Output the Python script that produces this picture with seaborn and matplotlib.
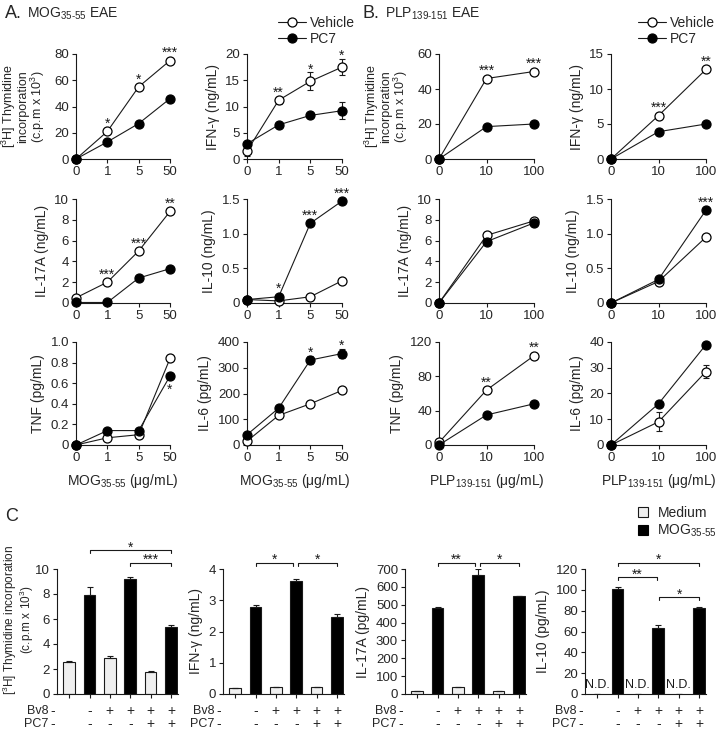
import numpy as np
import pandas as pd
import matplotlib
matplotlib.use("Agg")
import matplotlib.pyplot as plt
from matplotlib.lines import Line2D
from matplotlib.patches import Patch
from matplotlib.transforms import blended_transform_factory
import seaborn as sns

# ---------------- DATA ----------------
mog_doses = ["0", "1", "5", "50"]
plp_doses = ["0", "10", "100"]

# A. MOG35-55 EAE (vehicle vs PC7, mean and SEM)
a_thy_veh = [0, 21, 55, 75]
a_thy_pc7 = [0, 13, 27, 46]
a_ifn_veh = [1.5, 11.2, 14.8, 17.5]
a_ifn_veh_err = [1.0, 0.7, 1.7, 1.5]
a_ifn_pc7 = [2.9, 6.5, 8.3, 9.2]
a_ifn_pc7_err = [0.2, 0.3, 0.4, 1.6]
a_il17_veh = [0.5, 2.0, 5.0, 8.8]
a_il17_pc7 = [0.05, 0.05, 2.4, 3.3]
a_il10_veh = [0.05, 0.03, 0.09, 0.32]
a_il10_pc7 = [0.05, 0.09, 1.15, 1.47]
a_tnf_veh = [0.0, 0.07, 0.10, 0.84]
a_tnf_pc7 = [0.0, 0.14, 0.14, 0.67]
a_il6_veh = [15, 115, 160, 212]
a_il6_pc7 = [40, 143, 330, 355]
a_il6_pc7_err = [5, 8, 15, 18]

a_thy_stars = ["", "*", "*", "***"]
a_ifn_stars = ["", "**", "*", "*"]
a_il17_stars = ["", "***", "***", "**"]
a_il10_stars = ["", "*", "***", "***"]
a_tnf_stars = ["", "", "", "*"]
a_il6_stars = ["", "", "*", "*"]

# B. PLP139-151 EAE
b_thy_veh = [0, 46, 50]
b_thy_pc7 = [0, 18.5, 20]
b_ifn_veh = [0, 6.2, 12.8]
b_ifn_pc7 = [0, 3.9, 5.0]
b_il17_veh = [0, 6.5, 7.9]
b_il17_pc7 = [0, 5.9, 7.7]
b_il10_veh = [0, 0.31, 0.95]
b_il10_pc7 = [0, 0.34, 1.34]
b_tnf_veh = [3, 64, 104]
b_tnf_pc7 = [0, 35, 48]
b_il6_veh = [0, 9, 28.5]
b_il6_veh_err = [0, 3.7, 2.5]
b_il6_pc7 = [0, 16, 39]

b_thy_stars = ["", "***", "***"]
b_ifn_stars = ["", "***", "**"]
b_il17_stars = ["", "", ""]
b_il10_stars = ["", "", "***"]
b_tnf_stars = ["", "**", "**"]
b_il6_stars = ["", "", ""]

# C. Bv8 / PC7 restimulation, bars alternate Medium / MOG35-55
bv8_signs = ["-", "-", "+", "+", "+", "+"]
pc7_signs = ["-", "-", "-", "-", "+", "+"]
c_thy = [2.55, 7.9, 2.85, 9.2, 1.75, 5.4]
c_thy_err = [0.12, 0.65, 0.2, 0.15, 0.08, 0.12]
c_ifn = [0.18, 2.8, 0.22, 3.62, 0.22, 2.47]
c_ifn_err = [0.01, 0.04, 0.01, 0.07, 0.01, 0.1]
c_il17 = [15, 480, 38, 668, 15, 548]
c_il17_err = [2, 5, 2, 30, 2, 3]
c_il10 = [np.nan, 101, np.nan, 63, np.nan, 83]
c_il10_err = [0, 2, 0, 3, 0, 0.5]

# --------------- STYLE ----------------
sns.set_style("ticks")
plt.rcParams["font.family"] = ["Liberation Sans", "DejaVu Sans"]
plt.rcParams["mathtext.fontset"] = "custom"
plt.rcParams["mathtext.rm"] = "Liberation Sans"
plt.rcParams["mathtext.it"] = "Liberation Sans:italic"
plt.rcParams["mathtext.bf"] = "Liberation Sans:bold"

INK = "#1a1a1a"
FS = 10      # axis labels
TFS = 9.5    # tick labels
W, H = 717, 732
fig = plt.figure(figsize=(W / 100, H / 100), dpi=100)

MOG = r"MOG$_{\mathregular{35‐55}}$"
PLP = r"PLP$_{\mathregular{139‐151}}$"


def px_axes(x0, y0, x1, y1):
    return fig.add_axes([x0 / W, 1 - y1 / H, (x1 - x0) / W, (y1 - y0) / H])


def style_axes(ax):
    sns.despine(ax=ax)
    for side in ("left", "bottom"):
        ax.spines[side].set_linewidth(0.8)
        ax.spines[side].set_color(INK)
    ax.tick_params(length=3, width=0.8, labelsize=TFS, pad=2, color=INK)


def draw_lines(ax, doses, veh, veh_err, pc7, pc7_err, yticks, yticklabels,
               ylabel, stars, below=False, xlabel=None):
    pos = np.arange(len(doses))
    ax.set_xlim(0, len(doses) - 1)
    ax.set_ylim(0, yticks[-1])
    for vals, err, face in ((veh, veh_err, "white"), (pc7, pc7_err, "black")):
        ax.errorbar(pos, vals, yerr=err, fmt="none", ecolor=INK, elinewidth=0.8,
                    capsize=2.5, capthick=0.8, zorder=2, clip_on=False)
        sns.lineplot(x=pos, y=vals, ax=ax, color=INK, linewidth=0.8, marker="o",
                     markersize=6.5, markerfacecolor=face, markeredgecolor="black",
                     markeredgewidth=0.9, zorder=3, clip_on=False)
    ax.set_xticks(pos, doses)
    ax.set_yticks(yticks, yticklabels)
    if "\n" in ylabel:
        ax.set_ylabel(ylabel, fontsize=9, linespacing=0.95)
        w = ax.get_position().width * W
        ax.yaxis.set_label_coords(-29 / w, 0.5)
    else:
        ax.set_ylabel(ylabel, fontsize=FS)
    if xlabel:
        ax.set_xlabel(xlabel, fontsize=FS, labelpad=6)
    style_axes(ax)

    # significance stars
    for i, s in enumerate(stars):
        if not s:
            continue
        if below:
            y_disp = ax.transData.transform((i, pc7[i]))[1]
            off = -18
        else:
            tops = []
            for vals, err in ((veh, veh_err), (pc7, pc7_err)):
                e = err[i] if err is not None else 0
                v_disp = ax.transData.transform((i, vals[i]))[1]
                e_disp = ax.transData.transform((i, vals[i] + e))[1]
                tops.append(max(v_disp + 4.5, e_disp))
            y_disp = max(tops)
            off = -1
        x_disp = ax.transData.transform((i, 0))[0]
        fig.text(x_disp / W, (y_disp + off) / H, s, ha="center", va="baseline",
                 fontsize=10, color=INK)


def bracket(ax, x1, x2, y, text, drop):
    ax.plot([x1, x1, x2, x2], [y - drop, y, y, y - drop], color=INK, lw=0.8,
            clip_on=False)
    ax.annotate(text, ((x1 + x2) / 2, y), xytext=(0, -1), textcoords="offset points",
                ha="center", va="baseline", fontsize=10, color=INK,
                annotation_clip=False)


def draw_bars(ax, vals, errs, yticks, ylabel, brackets, nd=False):
    grp = [f"g{i}" for i in range(6)]
    colors = ["#efefef", "black"] * 3
    df = pd.DataFrame({"grp": grp, "val": vals})
    sns.barplot(data=df, x="grp", y="val", hue="grp", order=grp, hue_order=grp,
                palette=dict(zip(grp, colors)), legend=False, width=0.58,
                edgecolor=INK, linewidth=0.8, errorbar=None, ax=ax)
    pos = np.arange(6)
    vv = np.nan_to_num(np.array(vals, dtype=float))
    ax.errorbar(pos, vv, yerr=[np.zeros(6), errs], fmt="none", ecolor=INK,
                elinewidth=0.8, capsize=2.5, capthick=0.8, zorder=3)
    ax.set_xlim(-0.6, 5.35)
    ax.set_ylim(0, yticks[-1])
    ax.set_xticks(pos, [""] * 6)
    ax.set_yticks(yticks, [f"{t:g}" for t in yticks])
    ax.set_xlabel("")
    if "\n" in ylabel:
        ax.set_ylabel(ylabel, fontsize=8.5, linespacing=0.9)
    else:
        ax.set_ylabel(ylabel, fontsize=FS)
    style_axes(ax)
    span = yticks[-1]
    for x1, x2, y, s in brackets:
        bracket(ax, x1, x2, y, s, span * 0.025)
    if nd:
        for i in (0, 2, 4):
            ax.text(i, span * 0.07, "N.D.", ha="center", va="center", fontsize=9,
                    color=INK)
    trans = blended_transform_factory(ax.transData, fig.transFigure)
    for row, signs, ypx in (("Bv8", bv8_signs, 711), ("PC7", pc7_signs, 724)):
        yf = 1 - ypx / H
        ax.text(-1.03, yf, row, transform=trans, ha="right", va="center", fontsize=9)
        for i, s in enumerate(signs):
            xi = -0.83 if i == 0 else i
            ax.text(xi, yf, s, transform=trans, ha="center", va="center",
                    fontsize=10)


thy_label = "[$^3$H] Thymidine\nincorporation\n(c.p.m x 10$^3$)"

# ---------- Panel A ----------
cols_a = [(76, 170), (247, 342)]
cols_b = [(439, 534), (611, 706)]
rows = [(54, 159), (199, 303), (342, 445)]

ax = px_axes(cols_a[0][0], rows[0][0], cols_a[0][1], rows[0][1])
draw_lines(ax, mog_doses, a_thy_veh, None, a_thy_pc7, None, [0, 20, 40, 60, 80],
           ["0", "20", "40", "60", "80"], thy_label, a_thy_stars)
ax = px_axes(cols_a[1][0], rows[0][0], cols_a[1][1], rows[0][1])
draw_lines(ax, mog_doses, a_ifn_veh, a_ifn_veh_err, a_ifn_pc7, a_ifn_pc7_err,
           [0, 5, 10, 15, 20], ["0", "5", "10", "15", "20"], "IFN-γ (ng/mL)", a_ifn_stars)
ax = px_axes(cols_a[0][0], rows[1][0], cols_a[0][1], rows[1][1])
draw_lines(ax, mog_doses, a_il17_veh, None, a_il17_pc7, None, [0, 2, 4, 6, 8, 10],
           ["0", "2", "4", "6", "8", "10"], "IL-17A (ng/mL)", a_il17_stars)
ax = px_axes(cols_a[1][0], rows[1][0], cols_a[1][1], rows[1][1])
draw_lines(ax, mog_doses, a_il10_veh, None, a_il10_pc7, None, [0, 0.5, 1.0, 1.5],
           ["0", "0.5", "1.0", "1.5"], "IL-10 (ng/mL)", a_il10_stars)
ax = px_axes(cols_a[0][0], rows[2][0], cols_a[0][1], rows[2][1])
draw_lines(ax, mog_doses, a_tnf_veh, None, a_tnf_pc7, None,
           [0, 0.2, 0.4, 0.6, 0.8, 1.0], ["0", "0.2", "0.4", "0.6", "0.8", "1.0"],
           "TNF (pg/mL)", a_tnf_stars, below=True, xlabel=MOG + " (μg/mL)")
ax = px_axes(cols_a[1][0], rows[2][0], cols_a[1][1], rows[2][1])
draw_lines(ax, mog_doses, a_il6_veh, None, a_il6_pc7, a_il6_pc7_err,
           [0, 100, 200, 300, 400], ["0", "100", "200", "300", "400"],
           "IL-6 (pg/mL)", a_il6_stars, xlabel=MOG + " (μg/mL)")

# ---------- Panel B ----------
ax = px_axes(cols_b[0][0], rows[0][0], cols_b[0][1], rows[0][1])
draw_lines(ax, plp_doses, b_thy_veh, None, b_thy_pc7, None, [0, 20, 40, 60],
           ["0", "20", "40", "60"], thy_label, b_thy_stars)
ax = px_axes(cols_b[1][0], rows[0][0], cols_b[1][1], rows[0][1])
draw_lines(ax, plp_doses, b_ifn_veh, None, b_ifn_pc7, None, [0, 5, 10, 15],
           ["0", "5", "10", "15"], "IFN-γ (ng/mL)", b_ifn_stars)
ax = px_axes(cols_b[0][0], rows[1][0], cols_b[0][1], rows[1][1])
draw_lines(ax, plp_doses, b_il17_veh, None, b_il17_pc7, None, [0, 2, 4, 6, 8, 10],
           ["0", "2", "4", "6", "8", "10"], "IL-17A (ng/mL)", b_il17_stars)
ax = px_axes(cols_b[1][0], rows[1][0], cols_b[1][1], rows[1][1])
draw_lines(ax, plp_doses, b_il10_veh, None, b_il10_pc7, None, [0, 0.5, 1.0, 1.5],
           ["0", "0.5", "1.0", "1.5"], "IL-10 (ng/mL)", b_il10_stars)
ax = px_axes(cols_b[0][0], rows[2][0], cols_b[0][1], rows[2][1])
draw_lines(ax, plp_doses, b_tnf_veh, None, b_tnf_pc7, None, [0, 40, 80, 120],
           ["0", "40", "80", "120"], "TNF (pg/mL)", b_tnf_stars,
           xlabel=PLP + " (μg/mL)")
ax = px_axes(cols_b[1][0], rows[2][0], cols_b[1][1], rows[2][1])
draw_lines(ax, plp_doses, b_il6_veh, b_il6_veh_err, b_il6_pc7, None,
           [0, 10, 20, 30, 40], ["0", "10", "20", "30", "40"], "IL-6 (pg/mL)",
           b_il6_stars, xlabel=PLP + " (μg/mL)")

# ---------- Panel C ----------
ax = px_axes(57, 569, 178, 694)
draw_bars(ax, c_thy, c_thy_err, [0, 2, 4, 6, 8, 10],
          "[$^3$H] Thymidine incorporation\n(c.p.m x 10$^3$)",
          [(1, 5, 11.5, "*"), (3, 5, 10.5, "***")])
ax.yaxis.set_label_coords(-21 / 121, 0.59)
ax = px_axes(223, 569, 344, 694)
draw_bars(ax, c_ifn, c_ifn_err, [0, 1, 2, 3, 4], "IFN-γ (ng/mL)",
          [(1, 2.85, 4.2, "*"), (3.1, 5, 4.2, "*")])
ax = px_axes(405, 569, 526, 694)
draw_bars(ax, c_il17, c_il17_err, [0, 100, 200, 300, 400, 500, 600, 700],
          "IL-17A (pg/mL)", [(1, 2.85, 735, "**"), (3.1, 5, 735, "*")])
ax = px_axes(585, 569, 706, 694)
draw_bars(ax, c_il10, c_il10_err, [0, 20, 40, 60, 80, 100, 120], "IL-10 (pg/mL)",
          [(1, 5, 126, "*"), (1, 2.95, 112, "**"), (3.05, 5, 93, "*")], nd=True)

# ---------- titles & legends ----------
fig.text(5 / W, 1 - 18 / H, "A.", fontsize=13, va="baseline")
fig.text(27 / W, 1 - 18 / H, MOG + " EAE", fontsize=10, va="baseline")
fig.text(362 / W, 1 - 18 / H, "B.", fontsize=13, va="baseline")
fig.text(385 / W, 1 - 18 / H, PLP + " EAE", fontsize=10, va="baseline")
fig.text(5 / W, 1 - 521 / H, "C", fontsize=13, va="baseline")

line_handles = [
    Line2D([], [], color=INK, lw=0.8, marker="o", ms=6.5, mfc="white", mec="black", mew=0.9),
    Line2D([], [], color=INK, lw=0.8, marker="o", ms=6.5, mfc="black", mec="black", mew=0.9),
]
for x0 in (278, 638):
    fig.legend(line_handles, ["Vehicle", "PC7"], loc="upper left",
               bbox_to_anchor=(x0 / W, 1 - 16 / H), frameon=False, fontsize=10,
               handlelength=2.0, handletextpad=0.3, labelspacing=0.15,
               borderpad=0, borderaxespad=0)

bar_handles = [Patch(facecolor="#efefef", edgecolor=INK, lw=0.8),
               Patch(facecolor="black", edgecolor="black", lw=0.8)]
fig.legend(bar_handles, ["Medium", MOG], loc="upper left",
           bbox_to_anchor=(638 / W, 1 - 506 / H), frameon=False, fontsize=10,
           handlelength=0.7, handleheight=0.7, handletextpad=0.7, labelspacing=0.2,
           borderpad=0, borderaxespad=0)

fig.savefig("out.png", dpi=100)
